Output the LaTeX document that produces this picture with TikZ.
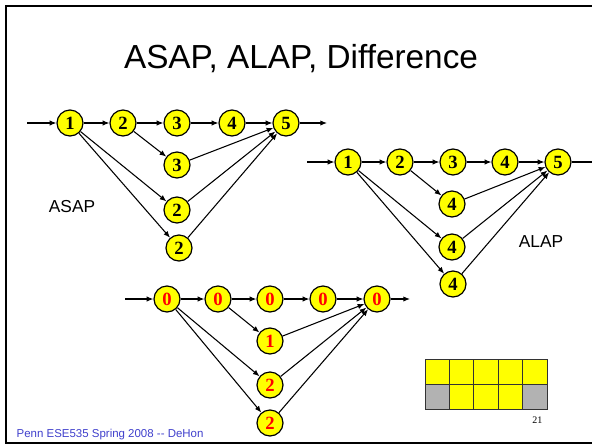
\documentclass[tikz,border=0pt]{standalone}
\usepackage{fontspec}
\setmainfont{Liberation Sans}
\newfontfamily\numfont{Liberation Serif}
\usetikzlibrary{arrows.meta}

\definecolor{opyellow}{RGB}{255,255,0}
\definecolor{slotgray}{RGB}{178,178,178}
\definecolor{footblue}{RGB}{64,64,204}

\tikzset{
  op/.style={shape=circle, draw=black, line width=0.9pt, fill=opyellow,
    minimum size=19.5pt, inner sep=0pt,
    font=\numfont\bfseries\fontsize{14}{14}\selectfont},
  dop/.style={op, text=red},
  flow/.style={-{Latex[length=5pt,width=4pt]}, line width=0.8pt},
  slot/.style={draw=black!80, line width=0.6pt},
}

\begin{document}
\begin{tikzpicture}[x=0.75pt, y=-0.75pt]
    \clip (0,0) rectangle (592,447);
    \draw[line width=1.5pt] (600,6) -- (6,6) -- (6,443) -- (600,443);

    \node[anchor=base, font=\fontsize{25}{25}\selectfont] (title) at (301,68) {ASAP, ALAP, Difference};

    % ASAP schedule
    \coordinate (ain) at (27,123);
    \coordinate (aout) at (327,123);
    \node[op] (a1) at (70,123) {1};
    \node[op] (a2) at (123,123) {2};
    \node[op] (a3) at (177,123) {3};
    \node[op] (a4) at (232,123) {4};
    \node[op] (a5) at (286,123) {5};
    \node[op] (a6) at (177,165) {3};
    \node[op] (a7) at (177,210) {2};
    \node[op] (a8) at (179,248) {2};
    \node[font=\fontsize{13}{13}\selectfont] (asaplbl) at (72,207) {ASAP};
    \path[flow] (ain) edge (a1);
    \path[flow] (a1) edge (a2);
    \path[flow] (a2) edge (a3);
    \path[flow] (a3) edge (a4);
    \path[flow] (a4) edge (a5);
    \path[flow] (a5) edge (aout);
    \path[flow] (a2) edge (a6);
    \path[flow] (a1) edge (a7);
    \path[flow] (a1) edge (a8);
    \path[flow] (a6) edge (a5);
    \path[flow] (a7) edge (a5);
    \path[flow] (a8) edge (a5);

    % ALAP schedule
    \coordinate (lin) at (307,162);
    \coordinate (lout) at (612,162);
    \node[op] (l1) at (348,162) {1};
    \node[op] (l2) at (400,162) {2};
    \node[op] (l3) at (453,162) {3};
    \node[op] (l4) at (505,162) {4};
    \node[op] (l5) at (558,162) {5};
    \node[op] (l6) at (452,204) {4};
    \node[op] (l7) at (452,247) {4};
    \node[op] (l8) at (453,284) {4};
    \node[font=\fontsize{13}{13}\selectfont] (alaplbl) at (541,242) {ALAP};
    \path[flow] (lin) edge (l1);
    \path[flow] (l1) edge (l2);
    \path[flow] (l2) edge (l3);
    \path[flow] (l3) edge (l4);
    \path[flow] (l4) edge (l5);
    \path[flow] (l5) edge (lout);
    \path[flow] (l2) edge (l6);
    \path[flow] (l1) edge (l7);
    \path[flow] (l1) edge (l8);
    \path[flow] (l6) edge (l5);
    \path[flow] (l7) edge (l5);
    \path[flow] (l8) edge (l5);

    % slack = ALAP - ASAP
    \coordinate (din) at (125,299);
    \coordinate (dout) at (410,299);
    \node[dop] (d1) at (167,299) {0};
    \node[dop] (d2) at (218,299) {0};
    \node[dop] (d3) at (270,299) {0};
    \node[dop] (d4) at (323,299) {0};
    \node[dop] (d5) at (377,299) {0};
    \node[dop] (d6) at (270,341) {1};
    \node[dop] (d7) at (270,385) {2};
    \node[dop] (d8) at (270,423) {2};
    \path[flow] (din) edge (d1);
    \path[flow] (d1) edge (d2);
    \path[flow] (d2) edge (d3);
    \path[flow] (d3) edge (d4);
    \path[flow] (d4) edge (d5);
    \path[flow] (d5) edge (dout);
    \path[flow] (d2) edge (d6);
    \path[flow] (d1) edge (d7);
    \path[flow] (d1) edge (d8);
    \path[flow] (d6) edge (d5);
    \path[flow] (d7) edge (d5);
    \path[flow] (d8) edge (d5);

    % resource slots
    \foreach \i in {0,...,4} {
        \draw[slot, fill=opyellow] (425+24.4*\i,359) rectangle ++(24.4,25);
    }
    \draw[slot, fill=slotgray] (425,384) rectangle ++(24.4,25);
    \draw[slot, fill=opyellow] (449.4,384) rectangle ++(24.4,25);
    \draw[slot, fill=opyellow] (473.8,384) rectangle ++(24.4,25);
    \draw[slot, fill=opyellow] (498.2,384) rectangle ++(24.4,25);
    \draw[slot, fill=slotgray] (522.6,384) rectangle ++(24.4,25);

    \node[anchor=base east, font=\numfont\fontsize{7.5}{9}\selectfont] (pagenum) at (547,423) {21};
    \node[anchor=base west, text=footblue, font=\fontsize{8.6}{10}\selectfont] (foot) at (12,437) {Penn ESE535 Spring 2008 -{}- DeHon};
\end{tikzpicture}
\end{document}
